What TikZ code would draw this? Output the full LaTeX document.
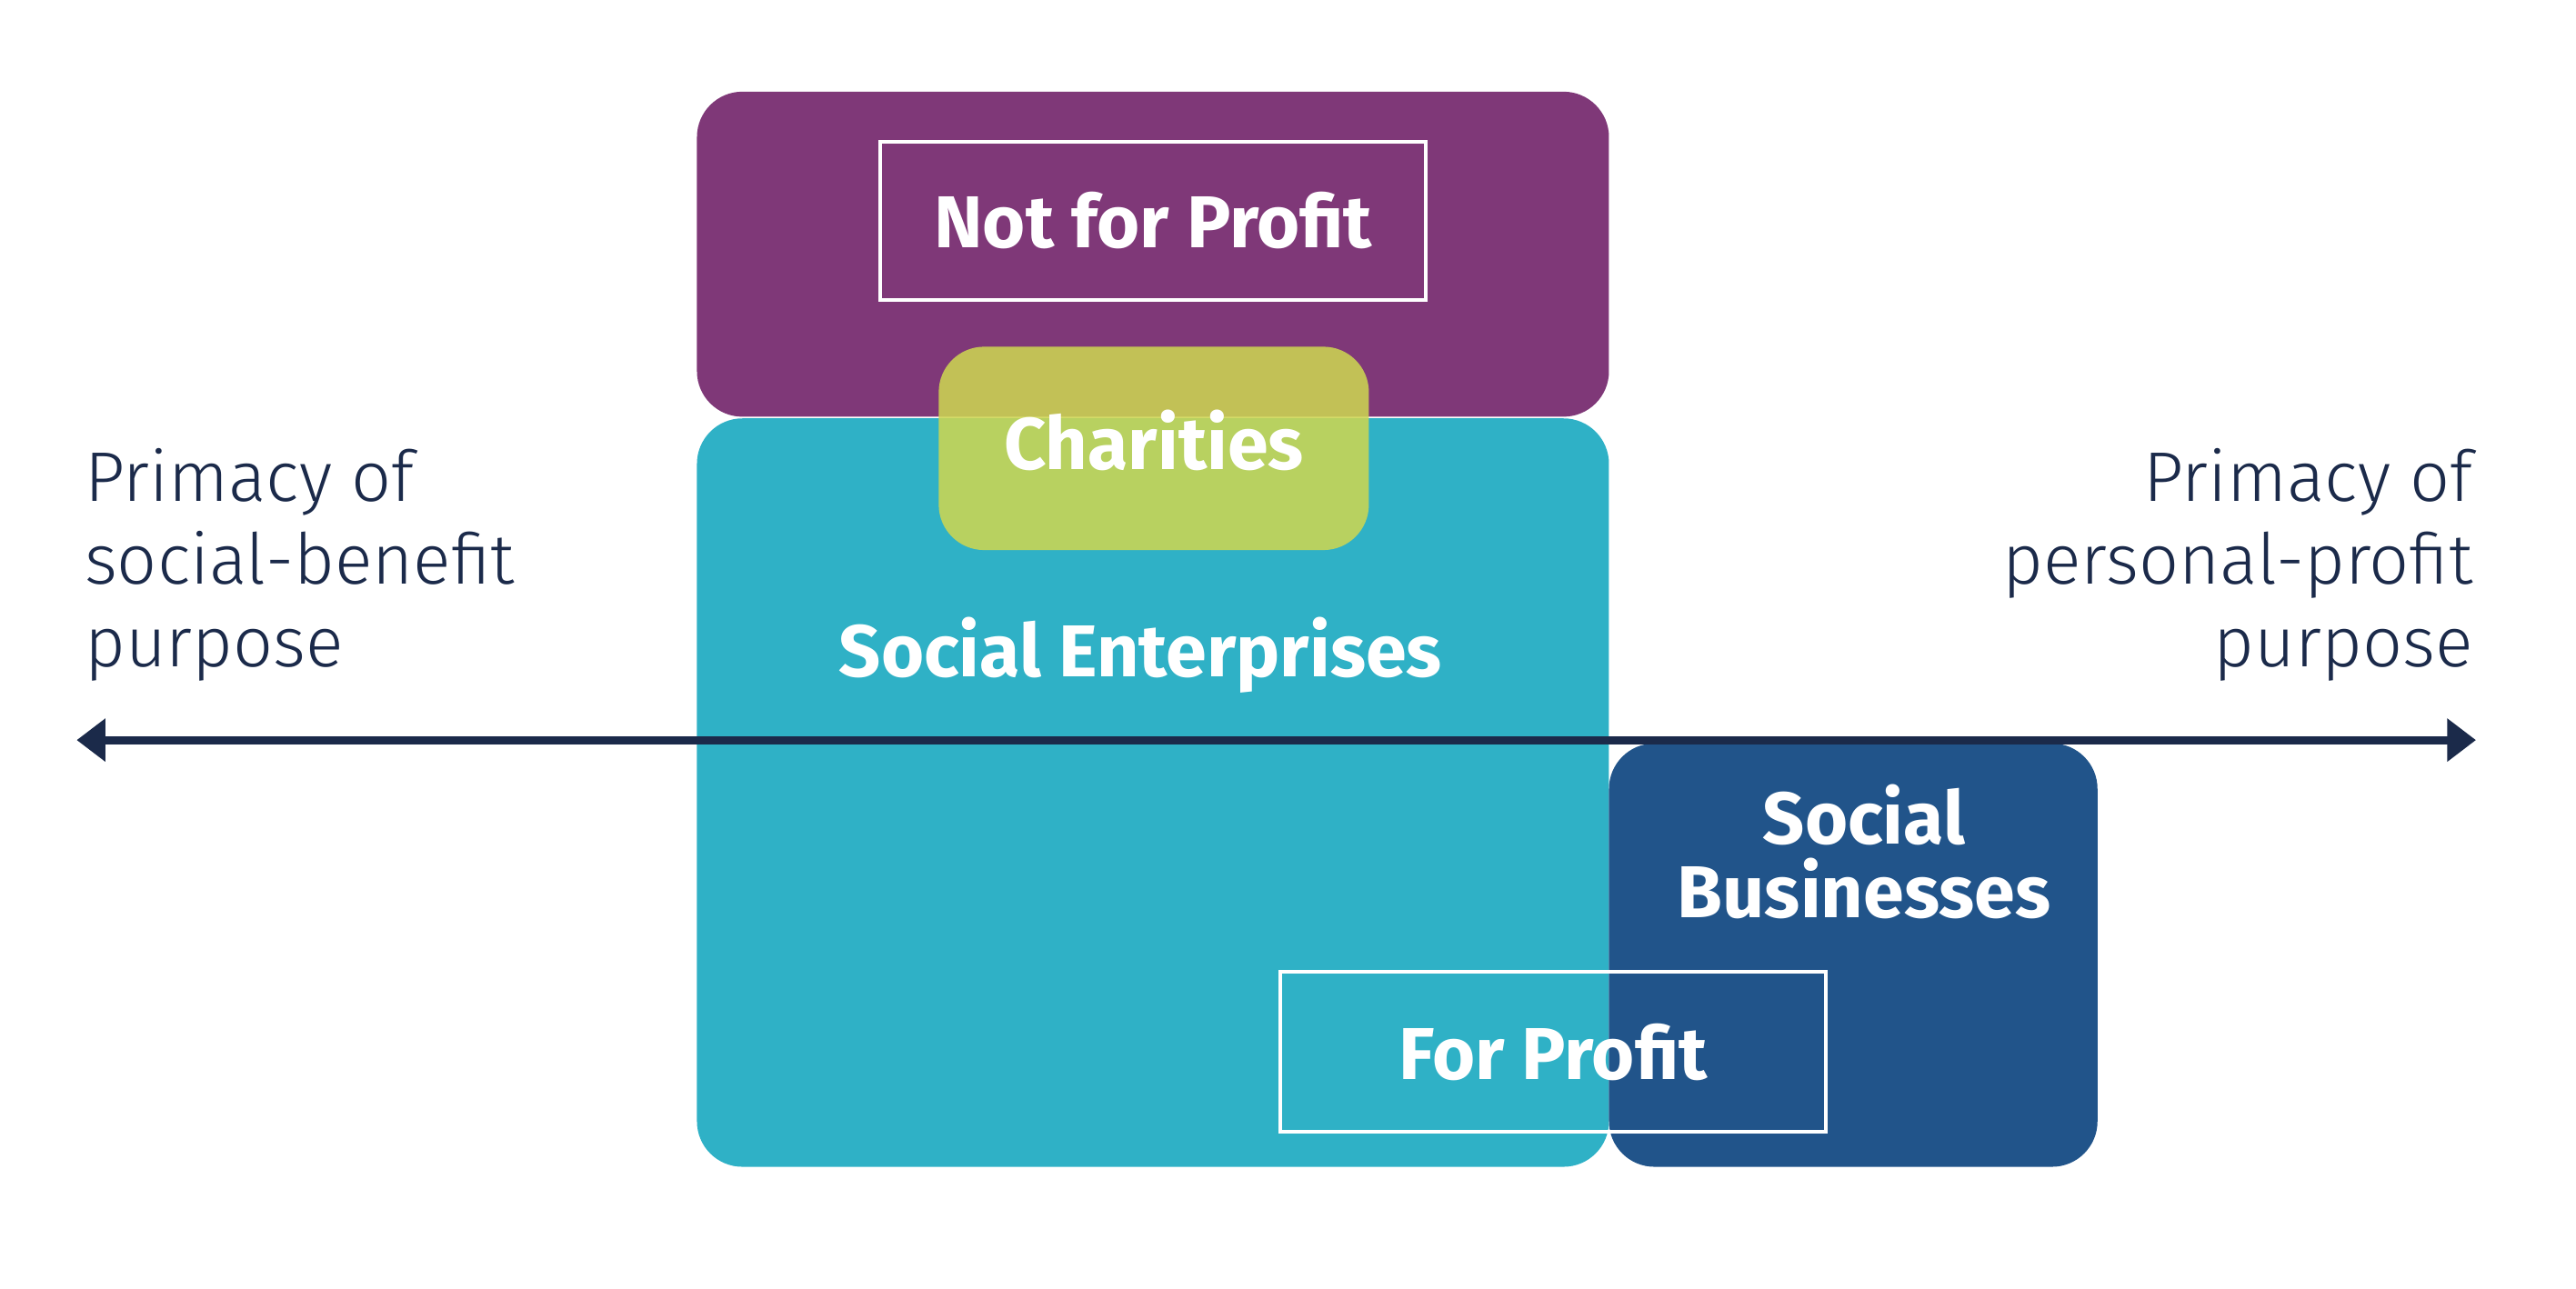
\documentclass[tikz,border=0pt]{standalone}
\usepackage{fontspec}
\setmainfont{Fira Sans}
\newfontfamily\lightfont{Fira Sans Light}
\usetikzlibrary{arrows.meta}
\definecolor{purp}{HTML}{7F3878}
\definecolor{teal}{HTML}{2FB1C6}
\definecolor{navy}{HTML}{21548A}
\definecolor{yel}{HTML}{CDD651}
\definecolor{dark}{HTML}{1B2A4A}
\tikzset{
  rbox/.style={rounded corners=0.5cm},
  lab/.style={text=white,font=\bfseries\fontsize{23}{27}\selectfont,align=center},
  side/.style={text=dark,font=\lightfont\fontsize{22}{26}\selectfont},
  outline/.style={draw=white,line width=1.2pt}
}
\begin{document}
\begin{tikzpicture}[x=0.018336cm,y=-0.018336cm]
\useasboundingbox (0,0) rectangle (1545,773);
\fill[purp,rbox] (418,55) rectangle (965,250);
\fill[teal,rbox] (418,251) rectangle (965,700);
\fill[navy,rbox] (965,446) rectangle (1258,700);
\fill[yel,rbox,opacity=0.87] (563,208) rectangle (821,330);
\node[outline,minimum width=5.996cm,minimum height=1.742cm] (nfpbox) at (691.5,132.5) {};
\node[lab] (nfp) at (nfpbox) {Not for Profit};
\node[outline,minimum width=5.996cm,minimum height=1.760cm] (fpbox) at (931.5,631) {};
\node[lab] (fp) at (fpbox) {For Profit};
\node[lab] (ch) at (692,264) {Charities};
\node[lab] (se) at (684,393) {Social Enterprises};
\node[lab] (sb) at (1118,511) {Social\\[-4pt]Businesses};
\coordinate (l) at (46,444);
\coordinate (r) at (1485,444);
\draw[dark,line width=2.6pt,{Triangle[width=13pt,length=9pt]}-{Triangle[width=13pt,length=9pt]}] (l) -- (r);
\node[side,anchor=north west,align=left] (lt) at (44,262) {Primacy of\\social-benefit\\purpose};
\node[side,anchor=north east,align=right] (rt) at (1490,262) {Primacy of\\personal-profit\\purpose};
\end{tikzpicture}
\end{document}
